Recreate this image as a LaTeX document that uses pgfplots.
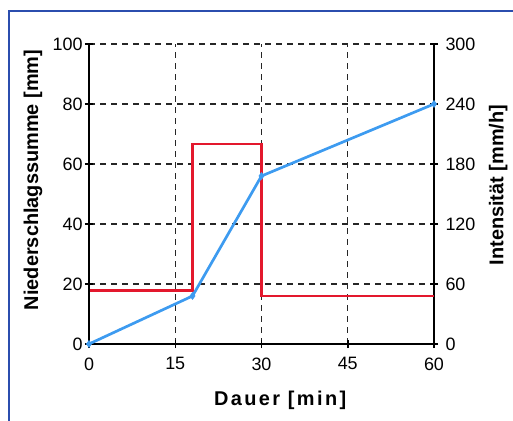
\documentclass[border=0pt]{standalone}
\usepackage{pgfplots}
\pgfplotsset{compat=1.18}
\usepackage{fontspec}
\setmainfont{Liberation Sans}

\definecolor{sumblue}{HTML}{3D9BF0}
\definecolor{intred}{HTML}{E3182D}
\definecolor{framecol}{HTML}{2B4DAE}

\tikzset{lab/.style={font=\fontsize{20}{24}\selectfont\bfseries, anchor=center}}

\pgfplotsset{
  base/.style={
    at={(89bp,77bp)}, anchor=south west,
    scale only axis, width=345bp, height=300bp,
    xmin=0, xmax=60,
    axis line style={-, black, line width=2bp},
    tick align=center,
    major tick length=8bp,
    tick style={black, line width=1.5bp},
    ticklabel style={font=\fontsize{18}{20}\selectfont},
    /pgf/number format/assume math mode=true,
  },
}

\begin{document}
\begin{tikzpicture}
\begin{scope}
  \clip (0,0) rectangle (513bp,421bp);
  \draw[framecol, line width=2.5bp] (9bp,-20bp) -- (9bp,410bp) -- (560bp,410bp);
\end{scope}

% right scale: intensity, carries the grid and the x axis
\begin{axis}[base,
  ymin=0, ymax=300,
  ytick={0,60,...,300},
  xtick={0,15,30,45,60},
  axis x line*=bottom, axis y line*=right,
  xticklabel style={yshift=-6bp},
  yticklabel style={xshift=4bp},
  grid=major,
  grid style={black!85, dash pattern=on 6bp off 5bp, line width=1.2bp},
  xlabel={\addfontfeature{LetterSpace=12}Dauer [min]},
  every axis x label/.style={lab, at={(axis description cs:0.554,-0.187)}},
  ylabel={Intensität [mm/h]},
  every axis y label/.style={lab, at={(axis description cs:1.186,0.53)}, rotate=90},
  ]
  \addplot[intred, line width=2.5bp, const plot, no marks] coordinates {
    (0,53.3) (18,200) (30,48) (60,48)
  };
\end{axis}

% left scale: cumulative rainfall
\begin{axis}[base,
  ymin=0, ymax=100,
  ytick={0,20,...,100},
  axis x line=none, axis y line*=left,
  yticklabel style={xshift=1bp},
  ylabel={Niederschlagssumme [mm]},
  every axis y label/.style={lab, at={(axis description cs:-0.162,0.547)}, rotate=90},
  ]
  \addplot[sumblue, line width=2.7bp, mark=diamond*, mark size=3.5bp,
    mark options={sumblue, line width=0.5bp}] coordinates {
    (0,0) (18,16) (30,56) (60,80)
  };
\end{axis}

\pgfresetboundingbox
\path[use as bounding box] (0,0) rectangle (513bp,421bp);
\end{tikzpicture}
\end{document}
